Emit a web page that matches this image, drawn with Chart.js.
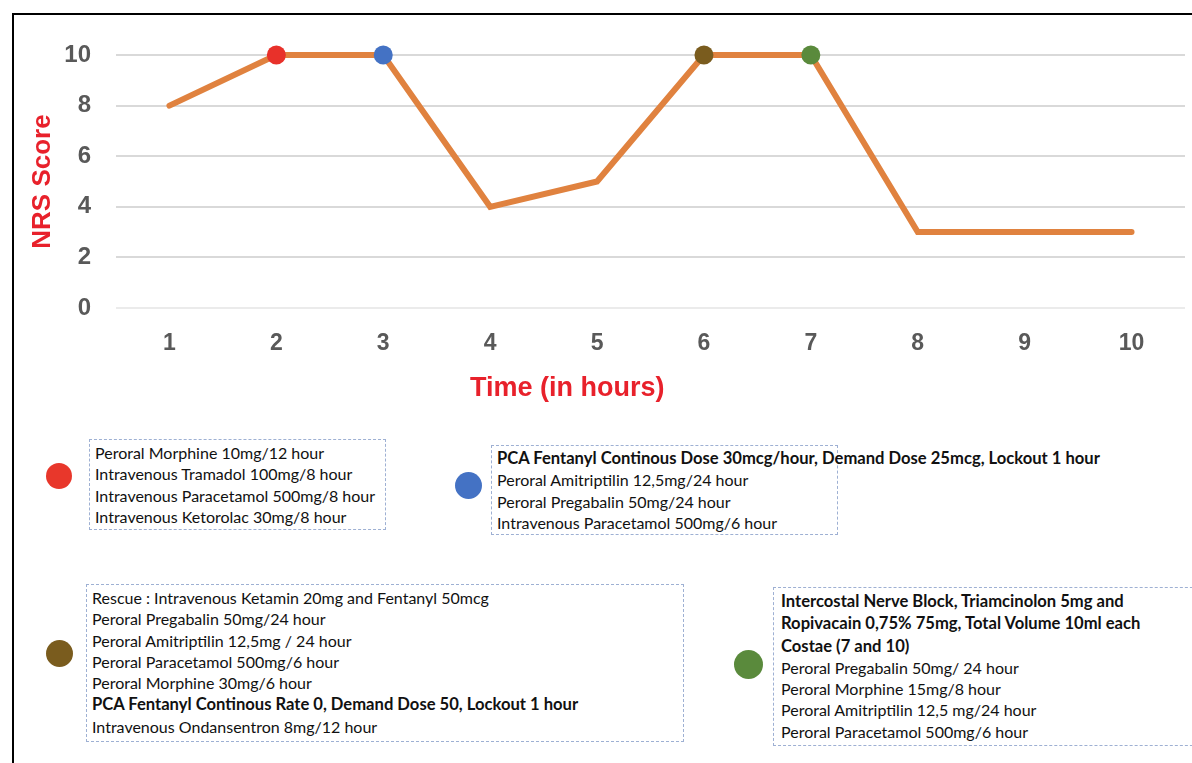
<!DOCTYPE html>
<html>
<head>
<meta charset="utf-8">
<script src="https://cdn.jsdelivr.net/npm/chart.js@4"></script>
<style>
  html, body { margin:0; padding:0; background:#fff; width:1192px; height:763px; overflow:hidden; position:relative; }
  #frame { position:absolute; left:12px; top:13px; width:1300px; height:900px; border:2px solid #000; box-sizing:border-box; }
  #chartWrap { position:absolute; left:14px; top:14px; width:1178px; height:400px; }
  #xTitle { position:absolute; left:470px; top:371px; font:bold 27px "Liberation Sans", Arial, sans-serif; color:#E8212B; line-height:32px; white-space:nowrap; }
  .dot { position:absolute; border-radius:50%; }
  .box { position:absolute; border:1px dashed #9EB0D3; box-sizing:border-box; font-family:Lato, "Noto Sans", sans-serif; font-size:16px; line-height:21.3px; color:#111; padding:2px 0 0 5px; white-space:nowrap; }
  .box b { font-weight:bold; font-size:16.6px; }
</style>
</head>
<body>
<div id="frame"></div>
<div id="chartWrap"><canvas id="c"></canvas></div>
<div id="xTitle">Time (in hours)</div>

<div class="dot" style="left:46px;top:463px;width:26px;height:26px;background:#E8372B;"></div>
<div class="box" style="left:89px;top:439px;width:297px;height:91px;">
Peroral Morphine 10mg/12 hour<br>Intravenous Tramadol 100mg/8 hour<br>Intravenous Paracetamol 500mg/8 hour<br>Intravenous Ketorolac 30mg/8 hour
</div>

<div class="dot" style="left:455px;top:472px;width:27px;height:27px;background:#4472C4;"></div>
<div class="box" style="left:491px;top:445px;width:347px;height:90px;padding-top:1px;">
<b>PCA Fentanyl Continous Dose 30mcg/hour, Demand Dose 25mcg, Lockout 1 hour</b><br>Peroral Amitriptilin 12,5mg/24 hour<br>Peroral Pregabalin 50mg/24 hour<br>Intravenous Paracetamol 500mg/6 hour
</div>

<div class="dot" style="left:46px;top:640px;width:27px;height:27px;background:#7A5C1E;"></div>
<div class="box" style="left:86px;top:584px;width:598px;height:158px;">
Rescue : Intravenous Ketamin 20mg and Fentanyl 50mcg<br>Peroral Pregabalin 50mg/24 hour<br>Peroral Amitriptilin 12,5mg / 24 hour<br>Peroral Paracetamol 500mg/6 hour<br>Peroral Morphine 30mg/6 hour<br><b>PCA Fentanyl Continous Rate 0, Demand Dose 50, Lockout 1 hour</b><br>Intravenous Ondansentron 8mg/12 hour
</div>

<div class="dot" style="left:734px;top:650px;width:29px;height:29px;background:#5A8A3C;"></div>
<div class="box" style="left:773px;top:587px;width:440px;height:159px;padding-left:7px;">
<b>Intercostal Nerve Block, Triamcinolon 5mg and<br>Ropivacain 0,75% 75mg, Total Volume 10ml each<br>Costae (7 and 10)</b><br>Peroral Pregabalin 50mg/ 24 hour<br>Peroral Morphine 15mg/8 hour<br>Peroral Amitriptilin 12,5 mg/24 hour<br>Peroral Paracetamol 500mg/6 hour
</div>

<script>
const hours = ['1','2','3','4','5','6','7','8','9','10'];
const nrsScores = [8, 10, 10, 4, 5, 10, 10, 3, 3, 3];
const markerColors = [null, '#E8312A', '#4472C4', null, null, '#7A5C1E', '#5A8A3C', null, null, null];
const yTicks = [0, 2, 4, 6, 8, 10];

const lineColor = '#E0823F';

new Chart(document.getElementById('c'), {
  type: 'line',
  data: {
    labels: hours,
    datasets: [{
      data: nrsScores,
      borderColor: lineColor,
      borderWidth: 6,
      borderCapStyle: 'round',
      borderJoinStyle: 'miter',
      tension: 0,
      fill: false,
      clip: false,
      pointRadius: markerColors.map(c => c ? 9.5 : 0),
      pointHoverRadius: markerColors.map(c => c ? 9.5 : 0),
      pointBorderWidth: 0,
      pointBackgroundColor: markerColors.map(c => c || lineColor),
      pointBorderColor: markerColors.map(c => c || lineColor)
    }]
  },
  options: {
    responsive: true,
    maintainAspectRatio: false,
    animation: false,
    layout: { padding: { left: 0, top: 41, right: 7, bottom: 0 } },
    plugins: { legend: { display: false }, tooltip: { enabled: false } },
    scales: {
      x: {
        offset: true,
        grid: { display: false, drawTicks: false },
        border: { display: false },
        ticks: { color: '#595959', padding: 22, font: { family: '"Liberation Sans", Arial, sans-serif', size: 23, weight: 'bold' } },
        afterFit: s => { s.height = 106; }
      },
      y: {
        min: 0, max: 10,
        afterBuildTicks: s => { s.ticks = yTicks.map(v => ({ value: v })); },
        grid: { drawTicks: false, lineWidth: 2, color: ctx => ctx.tick && ctx.tick.value === 0 ? '#EBEBEB' : '#D9D9D9' },
        border: { display: false },
        ticks: { color: '#595959', padding: 25, font: { family: '"Liberation Sans", Arial, sans-serif', size: 24, weight: 'bold' } },
        title: { display: true, text: 'NRS Score', color: '#E8212B', padding: { top: 13, bottom: 0 }, font: { family: '"Liberation Sans", Arial, sans-serif', size: 26, weight: 'bold' } },
        afterFit: s => { s.width = 102; }
      }
    }
  }
});
</script>
</body>
</html>
